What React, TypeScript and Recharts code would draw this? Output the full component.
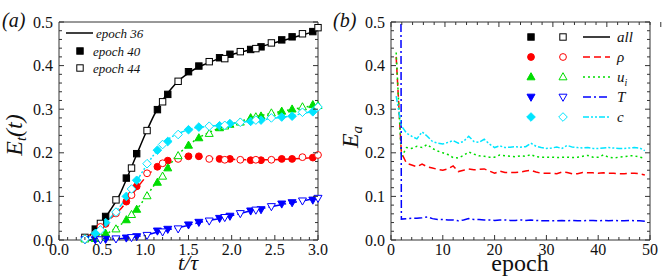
import React from 'react'
import { ComposedChart, LineChart, Line, Scatter, XAxis, YAxis } from 'recharts'

const RED = '#ff0000'
const GREEN = '#00dd00'
const BLUE = '#0000ff'
const CYAN = '#00e5ff'
const INK = '#000000'
const AXIS = '#333333'
const SERIF = '"Liberation Serif", "Times New Roman", serif'

// ---- panel (a): E_t(t) against t/tau ----
// epoch 36 (lines)
const lineT = [0.3, 0.4, 0.5, 0.6, 0.7, 0.8, 0.9, 1.0, 1.1, 1.2, 1.3, 1.4, 1.5, 1.6, 1.7, 1.8, 1.9, 2.0, 2.2, 2.4, 2.6, 2.8, 3.0]
const all36 = [0.002, 0.018, 0.042, 0.07, 0.103, 0.148, 0.196, 0.243, 0.286, 0.321, 0.347, 0.368, 0.383, 0.395, 0.404, 0.412, 0.419, 0.425, 0.436, 0.447, 0.458, 0.469, 0.481]
const rho36 = [0.003, 0.018, 0.035, 0.05, 0.068, 0.092, 0.118, 0.143, 0.162, 0.176, 0.185, 0.19, 0.192, 0.191, 0.189, 0.187, 0.186, 0.185, 0.184, 0.184, 0.185, 0.187, 0.19]
const u36 = [0.0, 0.002, 0.008, 0.02, 0.033, 0.05, 0.07, 0.097, 0.125, 0.152, 0.177, 0.2, 0.217, 0.232, 0.243, 0.252, 0.26, 0.266, 0.278, 0.288, 0.296, 0.303, 0.31]
const T36 = [0.0, 0.0, 0.001, 0.002, 0.003, 0.005, 0.008, 0.011, 0.016, 0.02, 0.025, 0.029, 0.034, 0.039, 0.043, 0.047, 0.052, 0.056, 0.066, 0.074, 0.082, 0.089, 0.096]
const c36 = [0.002, 0.014, 0.03, 0.052, 0.075, 0.103, 0.135, 0.167, 0.196, 0.219, 0.236, 0.246, 0.253, 0.258, 0.26, 0.262, 0.264, 0.267, 0.272, 0.277, 0.282, 0.289, 0.298]

// epoch 40 (filled markers)
const t40 = [0.42, 0.54, 0.78, 0.9, 1.14, 1.26, 1.5, 1.62, 1.86, 1.98, 2.22, 2.34, 2.58, 2.7, 2.94]
const all40 = [0.025, 0.054, 0.142, 0.198, 0.299, 0.334, 0.386, 0.399, 0.418, 0.426, 0.437, 0.443, 0.459, 0.466, 0.478]
const rho40 = [0.014, 0.037, 0.088, 0.123, 0.168, 0.182, 0.192, 0.192, 0.186, 0.186, 0.183, 0.183, 0.186, 0.186, 0.189]
const u40 = [0.003, 0.015, 0.046, 0.07, 0.132, 0.165, 0.217, 0.234, 0.257, 0.265, 0.28, 0.284, 0.295, 0.3, 0.31]
const T40 = [0.001, 0.002, 0.005, 0.008, 0.021, 0.025, 0.035, 0.041, 0.05, 0.055, 0.067, 0.07, 0.083, 0.086, 0.092]
const c40 = [0.015, 0.04, 0.1, 0.137, 0.206, 0.226, 0.253, 0.259, 0.262, 0.267, 0.272, 0.275, 0.282, 0.284, 0.294]

// epoch 44 (open markers)
const t44 = [0.3, 0.48, 0.66, 0.84, 1.02, 1.2, 1.38, 1.74, 1.92, 2.1, 2.28, 2.46, 2.82, 3.0]
const all44 = [0.006, 0.038, 0.092, 0.165, 0.251, 0.317, 0.364, 0.409, 0.416, 0.432, 0.439, 0.452, 0.473, 0.487]
const rho44 = [0.002, 0.03, 0.061, 0.103, 0.153, 0.176, 0.186, 0.186, 0.184, 0.184, 0.184, 0.184, 0.19, 0.195]
const u44 = [0.002, 0.006, 0.025, 0.058, 0.101, 0.146, 0.193, 0.244, 0.261, 0.27, 0.282, 0.291, 0.305, 0.308]
const T44 = [0.001, 0.001, 0.003, 0.006, 0.011, 0.019, 0.026, 0.044, 0.052, 0.061, 0.069, 0.077, 0.09, 0.096]
const c44 = [0.002, 0.023, 0.064, 0.117, 0.175, 0.219, 0.242, 0.261, 0.263, 0.27, 0.275, 0.28, 0.293, 0.305]

// ---- panel (b): E_a against epoch ----
const epochs = Array.from({ length: 49 }, (_, i) => i + 1)
const rhoEp = [0.42, 0.2, 0.176, 0.172, 0.168, 0.174, 0.168, 0.165, 0.162, 0.16, 0.163, 0.17, 0.157, 0.16, 0.163, 0.161, 0.162, 0.163, 0.158, 0.153, 0.158, 0.155, 0.155, 0.155, 0.156, 0.158, 0.16, 0.156, 0.153, 0.153, 0.153, 0.152, 0.156, 0.155, 0.152, 0.152, 0.155, 0.154, 0.154, 0.153, 0.154, 0.153, 0.153, 0.152, 0.152, 0.153, 0.153, 0.152, 0.149]
const uEp = [0.43, 0.19, 0.212, 0.21, 0.215, 0.212, 0.219, 0.21, 0.204, 0.2, 0.196, 0.189, 0.188, 0.194, 0.202, 0.197, 0.193, 0.192, 0.19, 0.19, 0.195, 0.193, 0.192, 0.191, 0.193, 0.192, 0.196, 0.191, 0.19, 0.19, 0.19, 0.189, 0.19, 0.19, 0.189, 0.19, 0.192, 0.194, 0.19, 0.19, 0.195, 0.19, 0.188, 0.19, 0.191, 0.193, 0.193, 0.19, 0.187]
const TEp = [6.0, 0.048, 0.049, 0.05, 0.05, 0.051, 0.053, 0.049, 0.047, 0.047, 0.046, 0.046, 0.044, 0.046, 0.049, 0.047, 0.047, 0.046, 0.046, 0.045, 0.046, 0.046, 0.045, 0.045, 0.046, 0.045, 0.046, 0.045, 0.044, 0.044, 0.044, 0.044, 0.045, 0.044, 0.045, 0.044, 0.044, 0.045, 0.045, 0.044, 0.045, 0.044, 0.045, 0.044, 0.044, 0.045, 0.044, 0.044, 0.043]
const cEp = [0.33, 0.262, 0.245, 0.238, 0.232, 0.248, 0.238, 0.226, 0.222, 0.22, 0.224, 0.228, 0.222, 0.226, 0.238, 0.226, 0.224, 0.231, 0.22, 0.212, 0.216, 0.212, 0.213, 0.214, 0.213, 0.214, 0.222, 0.215, 0.212, 0.21, 0.211, 0.213, 0.21, 0.217, 0.213, 0.212, 0.211, 0.212, 0.21, 0.21, 0.211, 0.212, 0.211, 0.21, 0.21, 0.211, 0.212, 0.211, 0.205]

// axis ticks (majors are labelled, the rest are minor marks)
const tMajor = [0, 0.5, 1, 1.5, 2, 2.5, 3]
const tTicks = Array.from({ length: 31 }, (_, i) => i / 10)
const eMajor = [0, 0.1, 0.2, 0.3, 0.4, 0.5]
const eTicks = Array.from({ length: 26 }, (_, i) => i / 50)
const epMajor = [0, 10, 20, 30, 40, 50]
const epTicks = Array.from({ length: 26 }, (_, i) => i * 2)

const DASH = {
  solid: undefined as string | undefined,
  dash: '7 4',
  dot: '2 3',
  dashdot: '8 3 2 3',
  dashdotdot: '6 2 2 2 2 2',
}

const pts = (ts: number[], vs: number[]) => ts.map((t, i) => ({ t, v: vs[i] }))

const seriesA = [
  { key: 'all', color: INK, dash: DASH.solid, shape: 'square', l36: all36, p40: all40, p44: all44 },
  { key: 'rho', color: RED, dash: DASH.dash, shape: 'circle', l36: rho36, p40: rho40, p44: rho44 },
  { key: 'u', color: GREEN, dash: DASH.dot, shape: 'up', l36: u36, p40: u40, p44: u44 },
  { key: 'T', color: BLUE, dash: DASH.dashdot, shape: 'down', l36: T36, p40: T40, p44: T44 },
  { key: 'c', color: CYAN, dash: DASH.dashdotdot, shape: 'diamond', l36: c36, p40: c40, p44: c44 },
]

const tableB = epochs.map((e, i) => ({ e, rho: rhoEp[i], u: uEp[i], T: TEp[i], c: cEp[i] }))

function Marker({ cx, cy, shape, color, filled }: any) {
  const fill = filled ? color : '#ffffff'
  const common = { fill, stroke: color, strokeWidth: 1 }
  if (shape === 'square') return <rect x={cx - 3.2} y={cy - 3.2} width={6.4} height={6.4} {...common} />
  if (shape === 'circle') return <circle cx={cx} cy={cy} r={3.4} {...common} />
  if (shape === 'up') return <polygon points={`${cx},${cy - 4.3} ${cx + 4},${cy + 2.8} ${cx - 4},${cy + 2.8}`} {...common} />
  if (shape === 'down') return <polygon points={`${cx},${cy + 4.3} ${cx + 4},${cy - 2.8} ${cx - 4},${cy - 2.8}`} {...common} />
  return <polygon points={`${cx},${cy - 4.3} ${cx + 4.3},${cy} ${cx},${cy + 4.3} ${cx - 4.3},${cy}`} {...common} />
}

// inward tick marks, labels only on bottom/left
function AxisTick(props: any) {
  const { x, y, payload, side, majors, fmt } = props
  const v = payload.value
  const major = majors.some((m: number) => Math.abs(m - v) < 1e-6)
  const len = major ? 5 : 3
  let mark = null
  let label = null
  if (side === 'bottom') {
    mark = <line x1={x} y1={y} x2={x} y2={y - len} stroke={AXIS} />
    if (major) label = <text x={x} y={y + 15} textAnchor="middle" fontSize={16} fontFamily={SERIF} fill="#111">{fmt(v)}</text>
  } else if (side === 'left') {
    mark = <line x1={x} y1={y} x2={x + len} y2={y} stroke={AXIS} />
    if (major) label = <text x={x - 6} y={y + 5.5} textAnchor="end" fontSize={16} fontFamily={SERIF} fill="#111">{fmt(v)}</text>
  } else if (side === 'top') {
    mark = <line x1={x} y1={y} x2={x} y2={y + len} stroke={AXIS} />
  } else {
    mark = <line x1={x} y1={y} x2={x - len} y2={y} stroke={AXIS} />
  }
  return (
    <g>
      {mark}
      {label}
    </g>
  )
}

const fmt1 = (v: number) => v.toFixed(1)
const fmt0 = (v: number) => String(Math.round(v))
const axisLine = { stroke: AXIS, strokeWidth: 1 }

function PanelA() {
  return (
    <ComposedChart width={330} height={277} margin={{ top: 21, right: 11, bottom: 36, left: 58 }}>
      <XAxis xAxisId="b" dataKey="t" type="number" domain={[0, 3]} ticks={tTicks} interval={0} height={1}
        tickSize={0} tickMargin={0} tickLine={false} axisLine={axisLine}
        tick={(p: any) => <AxisTick {...p} side="bottom" majors={tMajor} fmt={fmt1} />} />
      <XAxis xAxisId="top" orientation="top" type="number" domain={[0, 3]} ticks={tTicks} interval={0} height={1}
        allowDataOverflow tickSize={0} tickMargin={0} tickLine={false} axisLine={axisLine}
        tick={(p: any) => <AxisTick {...p} side="top" majors={tMajor} fmt={fmt1} />} />
      <YAxis yAxisId="l" type="number" domain={[0, 0.5]} ticks={eTicks} interval={0} width={1}
        tickSize={0} tickMargin={0} tickLine={false} axisLine={axisLine}
        tick={(p: any) => <AxisTick {...p} side="left" majors={eMajor} fmt={fmt1} />} />
      <YAxis yAxisId="r" orientation="right" type="number" domain={[0, 0.5]} ticks={eTicks} interval={0} width={1}
        allowDataOverflow tickSize={0} tickMargin={0} tickLine={false} axisLine={axisLine}
        tick={(p: any) => <AxisTick {...p} side="right" majors={eMajor} fmt={fmt1} />} />
      {seriesA.map((s) => (
        <Line key={`l-${s.key}`} xAxisId="b" yAxisId="l" data={pts(lineT, s.l36)} dataKey="v" type="monotone"
          stroke={s.color} strokeWidth={1.5} strokeDasharray={s.dash} dot={false} activeDot={false}
          isAnimationActive={false} />
      ))}
      {seriesA.map((s) => (
        <Scatter key={`f-${s.key}`} xAxisId="b" yAxisId="l" data={pts(t40, s.p40)} dataKey="v"
          isAnimationActive={false}
          shape={(p: any) => <Marker cx={p.cx} cy={p.cy} shape={s.shape} color={s.color} filled />} />
      ))}
      {seriesA.map((s) => (
        <Scatter key={`o-${s.key}`} xAxisId="b" yAxisId="l" data={pts(t44, s.p44)} dataKey="v"
          isAnimationActive={false}
          shape={(p: any) => <Marker cx={p.cx} cy={p.cy} shape={s.shape} color={s.color} filled={false} />} />
      ))}
    </ComposedChart>
  )
}

function PanelB() {
  return (
    <LineChart width={324} height={277} data={tableB} margin={{ top: 21, right: 13, bottom: 36, left: 50 }}>
      <XAxis xAxisId="b" dataKey="e" type="number" domain={[0, 50]} ticks={epTicks} interval={0} height={1}
        tickSize={0} tickMargin={0} tickLine={false} axisLine={axisLine}
        tick={(p: any) => <AxisTick {...p} side="bottom" majors={epMajor} fmt={fmt0} />} />
      <XAxis xAxisId="top" orientation="top" type="number" domain={[0, 50]} ticks={epTicks} interval={0} height={1}
        allowDataOverflow tickSize={0} tickMargin={0} tickLine={false} axisLine={axisLine}
        tick={(p: any) => <AxisTick {...p} side="top" majors={epMajor} fmt={fmt0} />} />
      <YAxis yAxisId="l" type="number" domain={[0, 0.5]} ticks={eTicks} interval={0} width={1} allowDataOverflow
        tickSize={0} tickMargin={0} tickLine={false} axisLine={axisLine}
        tick={(p: any) => <AxisTick {...p} side="left" majors={eMajor} fmt={fmt1} />} />
      <YAxis yAxisId="r" orientation="right" type="number" domain={[0, 0.5]} ticks={eTicks} interval={0} width={1}
        allowDataOverflow tickSize={0} tickMargin={0} tickLine={false} axisLine={axisLine}
        tick={(p: any) => <AxisTick {...p} side="right" majors={eMajor} fmt={fmt1} />} />
      <Line xAxisId="b" yAxisId="l" dataKey="rho" stroke={RED} strokeWidth={1.5} strokeDasharray={DASH.dash} dot={false} isAnimationActive={false} />
      <Line xAxisId="b" yAxisId="l" dataKey="u" stroke={GREEN} strokeWidth={1.5} strokeDasharray={DASH.dot} dot={false} isAnimationActive={false} />
      <Line xAxisId="b" yAxisId="l" dataKey="T" stroke={BLUE} strokeWidth={1.5} strokeDasharray={DASH.dashdot} dot={false} isAnimationActive={false} />
      <Line xAxisId="b" yAxisId="l" dataKey="c" stroke={CYAN} strokeWidth={1.5} strokeDasharray={DASH.dashdotdot} dot={false} isAnimationActive={false} />
    </LineChart>
  )
}

const legendB = [
  { label: 'all', sub: '', color: INK, dash: DASH.solid, shape: 'square' },
  { label: 'ρ', sub: '', color: RED, dash: DASH.dash, shape: 'circle' },
  { label: 'u', sub: 'i', color: GREEN, dash: DASH.dot, shape: 'up' },
  { label: 'T', sub: '', color: BLUE, dash: DASH.dashdot, shape: 'down' },
  { label: 'c', sub: '', color: CYAN, dash: DASH.dashdotdot, shape: 'diamond' },
]

function Overlay() {
  const it = { fontFamily: SERIF, fontStyle: 'italic' as const, fill: '#111' }
  return (
    <svg width={664} height={277} style={{ position: 'absolute', left: 0, top: 0, pointerEvents: 'none' }}>
      {/* panel letters */}
      <text x={2} y={27} fontSize={20} {...it}>(a)</text>
      <text x={333} y={27} fontSize={20} {...it}>(b)</text>

      {/* axis titles */}
      <text x={188} y={270} fontSize={22} textAnchor="middle" {...it}>t/τ</text>
      <text x={520} y={271} fontSize={24} textAnchor="middle" fontFamily={SERIF} fill="#111">epoch</text>
      <text transform="translate(22,135) rotate(-90)" fontSize={24} textAnchor="middle" {...it}>
        E<tspan fontSize={15} dy={4}>t</tspan><tspan dy={-4}>(t)</tspan>
      </text>
      <text transform="translate(358,137) rotate(-90)" fontSize={24} textAnchor="middle" {...it}>
        E<tspan fontSize={15} dy={4}>a</tspan>
      </text>

      {/* legend (a) */}
      <line x1={66} y1={33} x2={93} y2={33} stroke={INK} strokeWidth={1.5} />
      <text x={96} y={37.5} fontSize={13} {...it}>epoch 36</text>
      <Marker cx={80} cy={51} shape="square" color={INK} filled />
      <text x={93} y={55.5} fontSize={13} {...it}>epoch 40</text>
      <Marker cx={80} cy={68} shape="square" color={INK} filled={false} />
      <text x={93} y={72.5} fontSize={13} {...it}>epoch 44</text>

      {/* legend (b) */}
      {legendB.map((r, i) => {
        const y = 37 + i * 20
        return (
          <g key={r.label}>
            <Marker cx={531} cy={y} shape={r.shape} color={r.color} filled />
            <Marker cx={563} cy={y} shape={r.shape} color={r.color} filled={false} />
            <line x1={583} y1={y} x2={610} y2={y} stroke={r.color} strokeWidth={1.5} strokeDasharray={r.dash} />
            <text x={617} y={y + 5} fontSize={15} {...it}>
              {r.label}
              {r.sub ? <tspan fontSize={10} dy={4}>{r.sub}</tspan> : null}
            </text>
          </g>
        )
      })}
    </svg>
  )
}

export default function App() {
  return (
    <div style={{ position: 'absolute', left: 0, top: 0, width: 664, height: 277, background: '#fff' }}>
      <div style={{ position: 'absolute', left: 0, top: 0 }}>
        <PanelA />
      </div>
      <div style={{ position: 'absolute', left: 340, top: 0 }}>
        <PanelB />
      </div>
      <Overlay />
    </div>
  )
}
